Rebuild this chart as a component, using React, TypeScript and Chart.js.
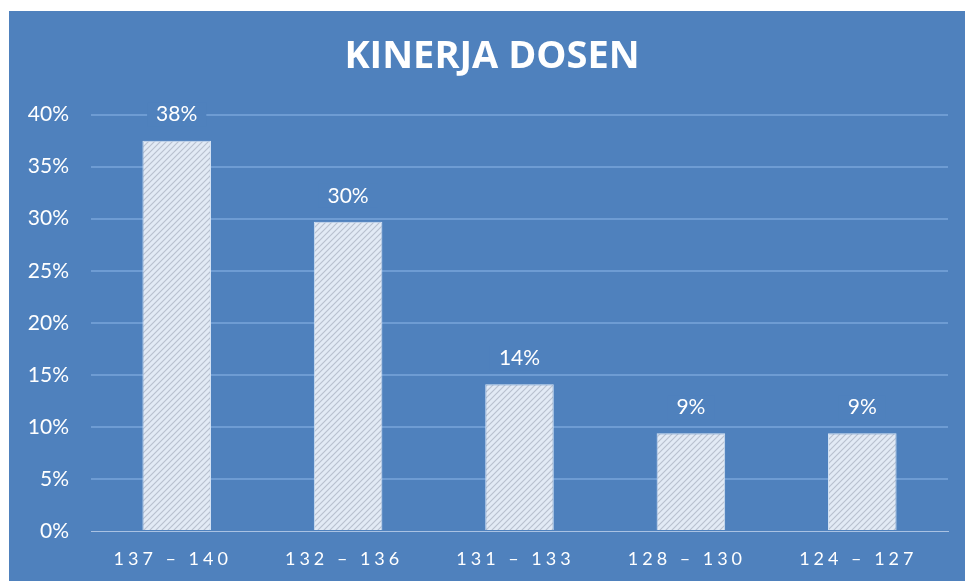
import React, { useEffect, useRef } from 'react';
import { Chart, registerables } from 'chart.js';

Chart.register(...registerables);

const chartTitle = 'KINERJA DOSEN';
const categories = ['137 – 140', '132 – 136', '131 – 133', '128 – 130', '124 – 127'];
const values = [37.5, 29.7, 14.1, 9.4, 9.4];
const valueLabels = ['38%', '30%', '14%', '9%', '9%'];
const yMin = 0;
const yMax = 40;
const yStep = 5;

const BG = '#4F81BD';

function makePattern(): CanvasPattern | string {
  const c = document.createElement('canvas');
  c.width = 6;
  c.height = 6;
  const g = c.getContext('2d');
  if (!g) return '#E3EBF5';
  g.fillStyle = '#E2EAF5';
  g.fillRect(0, 0, 6, 6);
  g.strokeStyle = 'rgba(165,174,190,0.7)';
  g.lineWidth = 1.1;
  g.beginPath();
  g.moveTo(0, 6); g.lineTo(6, 0);
  g.moveTo(-3, 3); g.lineTo(3, -3);
  g.moveTo(3, 9); g.lineTo(9, 3);
  g.stroke();
  return g.createPattern(c, 'repeat') || '#E3EBF5';
}

const bgPlugin = {
  id: 'bgFill',
  afterLayout(chart: any) {
    // centre the title over the panel the way the original does
    if (chart.titleBlock) chart.titleBlock.left = 27;
  },
  beforeDraw(chart: any) {
    const { ctx, width, height } = chart;
    (ctx as any).letterSpacing = '0px';
    ctx.save();
    ctx.fillStyle = BG;
    ctx.fillRect(0, 0, width, height);
    ctx.restore();
  },
};

const valueLabelPlugin = {
  id: 'valueLabels',
  afterDatasetsDraw(chart: any) {
    const ctx = chart.ctx;
    const meta = chart.getDatasetMeta(0);
    ctx.save();
    ctx.font = '21px Lato';
    ctx.textAlign = 'center';
    ctx.textBaseline = 'middle';
    meta.data.forEach((bar: any, i: number) => {
      const text = valueLabels[i];
      const x = bar.x;
      const y = bar.y - 26;
      const w = ctx.measureText(text).width + 18;
      ctx.fillStyle = BG;
      ctx.fillRect(x - w / 2, y - 12, w, 24);
      ctx.fillStyle = '#FFFFFF';
      ctx.fillText(text, x, y);
    });
    ctx.restore();
    // x tick labels (drawn after datasets, z:1) get wide letter spacing
    (ctx as any).letterSpacing = '4px';
  },
  afterDraw(chart: any) {
    (chart.ctx as any).letterSpacing = '0px';
  },
};

export default function App() {
  const ref = useRef<HTMLCanvasElement | null>(null);

  useEffect(() => {
    if (!ref.current) return;
    const pattern = makePattern();
    const chart = new Chart(ref.current, {
      type: 'bar',
      data: {
        labels: categories,
        datasets: [
          {
            data: values,
            backgroundColor: pattern as any,
            borderColor: '#D6E4F5',
            borderWidth: 1,
            categoryPercentage: 1,
            barPercentage: 0.4,
          },
        ],
      },
      options: {
        responsive: false,
        animation: false,
        layout: { padding: { left: 0, right: 17, top: 0, bottom: 0 } },
        plugins: {
          legend: { display: false },
          tooltip: { enabled: false },
          title: {
            display: true,
            text: chartTitle,
            color: '#FFFFFF',
            font: { family: 'Open Sans', size: 38, weight: 'bold' },
            padding: { top: 23, bottom: 35 },
          },
        },
        scales: {
          x: {
            grid: { display: false, drawTicks: false },
            border: { display: true, color: '#A9C2E3', width: 1 },
            ticks: {
              color: '#FFFFFF',
              font: { family: 'Lato', size: 18 },
              padding: 17,
              z: 1,
              autoSkip: false,
              maxRotation: 0,
              labelOffset: -4,
            },
            afterFit: (s: any) => {
              s.height = 50;
            },
          },
          y: {
            min: yMin,
            max: yMax,
            grid: {
              color: (c: any) => (c.tick && c.tick.value === 0 ? 'rgba(0,0,0,0)' : '#6E9CD3'),
              lineWidth: 2,
              drawTicks: false,
            },
            border: { display: false },
            ticks: {
              stepSize: yStep,
              color: '#FFFFFF',
              font: { family: 'Lato', size: 21 },
              padding: 22,
              callback: (v: any) => v + '%',
            },
            afterFit: (s: any) => {
              s.width = 82;
            },
          },
        },
      },
      plugins: [bgPlugin, valueLabelPlugin],
    });
    return () => chart.destroy();
  }, []);

  return (
    <div style={{ position: 'absolute', left: 0, top: 0, width: 965, height: 581, background: '#FFFFFF', overflow: 'hidden' }}>
      <canvas
        ref={ref}
        width={956}
        height={570}
        style={{ position: 'absolute', left: 9, top: 11, width: 956, height: 570 }}
      />
    </div>
  );
}
